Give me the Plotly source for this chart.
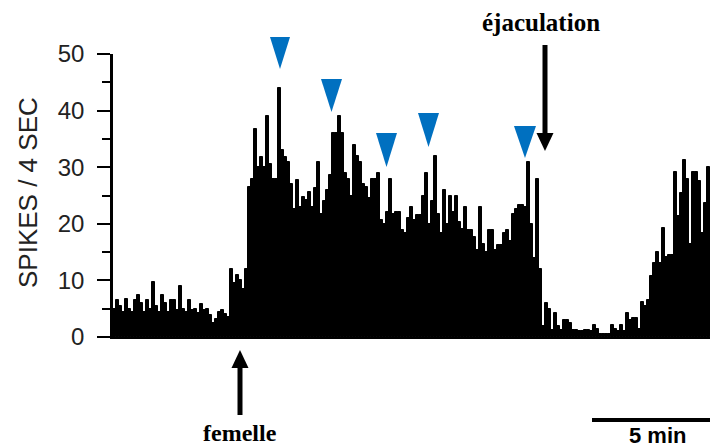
import numpy as np
import plotly.graph_objects as go

# Spike counts per bin (left to right)
spikes = [
    5, 6.5, 5.5, 4.5, 6.8, 5, 4.5, 6.5, 7.5, 6,
    4.5, 6.5, 5, 9.8, 5.5, 4.5, 7.5, 6, 4.5, 6.5,
    6.5, 4.8, 9, 5, 4.5, 6.5, 4.8, 5, 4.2, 5.8,
    4.8, 5, 3.8, 2.5, 3.2, 4.5, 4.8, 4, 3.5, 12,
    9.5, 11, 10, 8.5, 12, 26.5, 28, 36.8, 30, 31.8,
    30, 39, 30.6, 28, 28, 44, 33, 31.8, 31, 27,
    22.7, 27.7, 23, 24.8, 24.2, 25.7, 23, 26.3, 31, 21.8,
    24, 26, 28.6, 36, 36, 39, 36, 29, 28, 25,
    34, 32, 31, 27, 26.5, 24.5, 28, 28, 29, 20.6,
    20, 22, 28, 21.8, 22, 22, 18.9, 18.3, 21, 23,
    20.6, 21.5, 21.5, 25, 29, 20, 24, 32, 21.8, 18.3,
    26, 20, 25, 22, 25, 20.4, 19, 23, 18.9, 18.9,
    17.7, 15.4, 23, 16.5, 15, 18.9, 18.9, 15.4, 16.2, 16.2,
    18.3, 18.9, 17, 21.8, 22.7, 23.3, 23.3, 23, 31, 20,
    14, 28, 12, 2, 6, 5, 1.2, 4.2, 2, 1.2,
    3, 3, 2.5, 1.2, 1.2, 1, 1, 1.2, 1.2, 1,
    2.1, 1.5, 0.6, 0.6, 0.6, 0.6, 2.1, 1.5, 1, 2.1,
    1, 4.2, 3, 3.3, 3.3, 1.5, 6.2, 5.4, 6.5, 10.7,
    13, 15, 13, 19.2, 14.2, 14.5, 14.5, 29.2, 21.3, 25.4,
    31.3, 28, 16.5, 29.2, 29.2, 27.5, 18.3, 23.6, 30, 21.8,
    15.4,
]
bins = list(range(len(spikes)))
y_ticks = [0, 10, 20, 30, 40, 50]
y_minor = [5, 15, 25, 35, 45]

# page geometry (the page body adds an 8 px margin around the figure)
OFF = 8
W, H = 718 - OFF, 448 - OFF
L, R, T, B = 113, 716, 54, 337   # plot area in page pixels


def px(x):
    return (x - L) / (R - L)


def py(y):
    return (B - y) / (B - T)


def tri(pts):
    return "M " + " L ".join(f"{px(a):.5f},{py(b):.5f}" for a, b in pts) + " Z"


fig = go.Figure(go.Bar(x=bins, y=spikes, marker=dict(color="black", line=dict(color="black", width=1)),
                       hoverinfo="skip"))

shapes = []
# blue arrowheads (down-pointing)
for (x0, x1, y0, y1) in [(270, 290, 37, 69), (321, 342, 79, 112), (376, 397, 133, 167),
                         (418, 439, 113, 147), (514, 536, 126, 158)]:
    shapes.append(dict(type="path", xref="paper", yref="paper",
                       path=tri([(x0, y0), (x1, y0), ((x0 + x1) / 2, y1)]),
                       fillcolor="#0070C0", line=dict(width=0)))
# femelle arrow (up)
shapes.append(dict(type="line", xref="paper", yref="paper", x0=px(240), x1=px(240), y0=py(366), y1=py(415),
                   line=dict(color="black", width=5)))
shapes.append(dict(type="path", xref="paper", yref="paper",
                   path=tri([(240, 350), (231.5, 368), (248.5, 368)]), fillcolor="black", line=dict(width=0)))
# ejaculation arrow (down)
shapes.append(dict(type="line", xref="paper", yref="paper", x0=px(545), x1=px(545), y0=py(45), y1=py(135),
                   line=dict(color="black", width=5)))
shapes.append(dict(type="path", xref="paper", yref="paper",
                   path=tri([(536.5, 133), (553.5, 133), (545, 151)]), fillcolor="black", line=dict(width=0)))
# 5 min scale bar
shapes.append(dict(type="line", xref="paper", yref="paper", x0=px(592), x1=px(719), y0=py(420), y1=py(420),
                   line=dict(color="black", width=4)))

annotations = [
    dict(text="SPIKES / 4 SEC", textangle=-90, x=px(28), y=py(193), xref="paper", yref="paper",
         showarrow=False, xanchor="center", yanchor="middle",
         font=dict(family="Liberation Sans, Arial", size=26, color="#222")),
    dict(text="<b>femelle</b>", x=px(240), y=py(433), xref="paper", yref="paper", showarrow=False,
         xanchor="center", yanchor="middle", font=dict(family="Liberation Serif, Times New Roman", size=24, color="black")),
    dict(text="<b>éjaculation</b>", x=px(541), y=py(22), xref="paper", yref="paper", showarrow=False,
         xanchor="center", yanchor="middle", font=dict(family="Liberation Serif, Times New Roman", size=25, color="black")),
    dict(text="<b>5 min</b>", x=px(657), y=py(435), xref="paper", yref="paper", showarrow=False,
         xanchor="center", yanchor="middle", font=dict(family="Liberation Sans, Arial", size=22, color="black")),
]

fig.update_layout(
    width=W, height=H, margin=dict(l=L - OFF, r=(718 - R), t=T - OFF, b=448 - B),
    plot_bgcolor="white", paper_bgcolor="white", bargap=0, showlegend=False,
    shapes=shapes, annotations=annotations,
    xaxis=dict(range=[-0.5, len(spikes) - 0.5], showticklabels=False, showgrid=False, zeroline=False,
               showline=True, linecolor="black", linewidth=2, ticks=""),
    yaxis=dict(range=[0, 50], tickvals=y_ticks, ticks="outside", ticklen=13, tickwidth=2, tickcolor="black",
               showline=True, linecolor="black", linewidth=2.5, showgrid=False, zeroline=False,
               ticklabelstandoff=8,
               tickfont=dict(family="Liberation Sans, Arial", size=24, color="#222"),
               minor=dict(tickvals=y_minor, ticks="outside", ticklen=8, tickwidth=2, tickcolor="black",
                          showgrid=False)),
)

fig.write_html("out.html")
